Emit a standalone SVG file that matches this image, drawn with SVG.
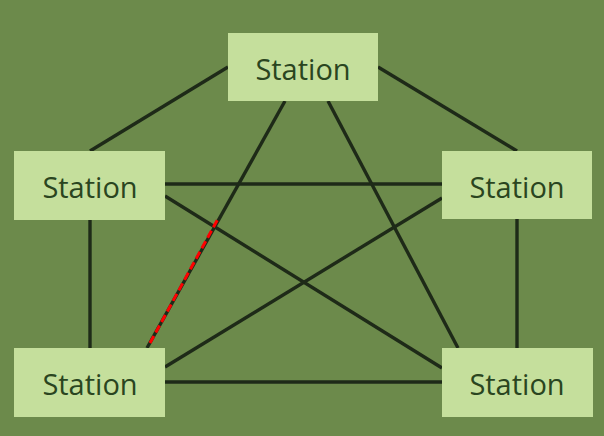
<svg xmlns="http://www.w3.org/2000/svg" width="604" height="436" viewBox="0 0 604 436">
<style>
.bg{fill:#6c8a4b}
.box{fill:#c5df9c}
.lbl{font-family:"Open Sans","Noto Sans",sans-serif;font-size:29px;font-weight:500;fill:#2a4520;text-anchor:middle}
.ln{stroke:#1e2a18;stroke-width:3.4;fill:none;stroke-linecap:butt}
.red{stroke:#ff0000;stroke-width:3;fill:none;stroke-dasharray:8 4}
</style>
<rect class="bg" x="0" y="0" width="604" height="436"/>
<g id="connectors">
<line class="ln" x1="228" y1="67" x2="90" y2="151"/>
<line class="ln" x1="378" y1="67" x2="517" y2="151"/>
<line class="ln" x1="285" y1="101" x2="147" y2="348"/>
<line class="ln" x1="328" y1="101" x2="458" y2="348"/>
<line class="ln" x1="165" y1="184" x2="442" y2="184"/>
<line class="ln" x1="165" y1="196" x2="442" y2="368"/>
<line class="ln" x1="90" y1="220" x2="90" y2="348"/>
<line class="ln" x1="442" y1="198" x2="165" y2="367"/>
<line class="ln" x1="517" y1="219" x2="517" y2="348"/>
<line class="ln" x1="165" y1="382" x2="442" y2="382"/>
<line class="red" x1="150" y1="343" x2="219" y2="217"/>
</g>
<g id="node-top">
<rect class="box" x="228" y="33" width="150" height="68"/>
<text class="lbl" x="303" y="80">Station</text>
</g>
<g id="node-left">
<rect class="box" x="14" y="151" width="151" height="69"/>
<text class="lbl" x="90" y="198">Station</text>
</g>
<g id="node-right">
<rect class="box" x="442" y="151" width="150" height="68"/>
<text class="lbl" x="517" y="198">Station</text>
</g>
<g id="node-bottom-left">
<rect class="box" x="14" y="348" width="151" height="69"/>
<text class="lbl" x="90" y="395">Station</text>
</g>
<g id="node-bottom-right">
<rect class="box" x="442" y="348" width="151" height="69"/>
<text class="lbl" x="517" y="395">Station</text>
</g>
</svg>
